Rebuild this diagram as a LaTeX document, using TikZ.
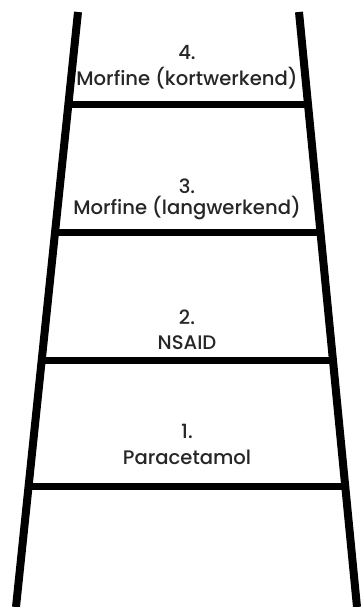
\documentclass[tikz,border=0pt]{standalone}
\usepackage{fontspec}
\setmainfont{Poppins}[UprightFont=* Medium]
\usetikzlibrary{calc}

\begin{document}
\begin{tikzpicture}[x=1pt, y=-1pt,
    rail/.style={line width=8pt},
    rung/.style={line width=7pt},
    lbl/.style={font=\fontsize{19.6}{24}\selectfont, text=black!85, inner sep=0pt, anchor=base}]
  \useasboundingbox[fill=white] (0,0) rectangle (363,607);
  \coordinate (Lt) at (78,12);
  \coordinate (Lb) at (16,607);
  \coordinate (Rt) at (299,12);
  \coordinate (Rb) at (357,607);
  \draw[rail] (Lt) -- (Lb);
  \draw[rail] (Rt) -- (Rb);

  \draw[rung] ($(Lt)!0.156!(Lb)$) -- ($(Rt)!0.156!(Rb)$);
  \draw[rung] ($(Lt)!0.370!(Lb)$) -- ($(Rt)!0.370!(Rb)$);
  \draw[rung] ($(Lt)!0.585!(Lb)$) -- ($(Rt)!0.585!(Rb)$);
  \draw[rung] ($(Lt)!0.798!(Lb)$) -- ($(Rt)!0.798!(Rb)$);

  \node[lbl] (N4) at (187,60) {4.};
  \node[lbl] (S4) at (187,86) {Morfine (kortwerkend)};
  \node[lbl] (N3) at (187,193) {3.};
  \node[lbl] (S3) at (187,214) {Morfine (langwerkend)};
  \node[lbl] (N2) at (187,324) {2.};
  \node[lbl] (S2) at (187,349) {NSAID};
  \node[lbl] (N1) at (187,438) {1.};
  \node[lbl] (S1) at (187,464) {Paracetamol};
\end{tikzpicture}
\end{document}
